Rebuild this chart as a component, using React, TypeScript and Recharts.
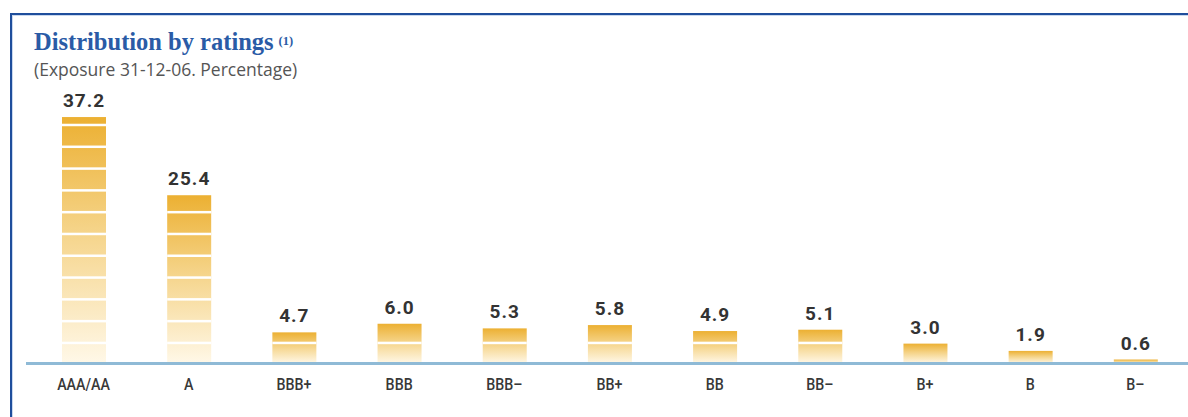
import React from "react";
import { BarChart, Bar, XAxis, YAxis, LabelList } from "recharts";

const categories = ["AAA/AA", "A", "BBB+", "BBB", "BBB–", "BB+", "BB", "BB–", "B+", "B", "B–"];
const values = [37.2, 25.4, 4.7, 6.0, 5.3, 5.8, 4.9, 5.1, 3.0, 1.9, 0.6];
const yDomain = [0, 40];
const STRIPE_UNITS = 3.29;

const data = categories.map((name, i) => ({ name, value: values[i] }));

const StripedBar = (props: any) => {
  const { x, y, width, height, payload } = props;
  if (!height || height <= 0) return null;
  const pxPerUnit = height / payload.value;
  const pitch = STRIPE_UNITS * pxPerUnit;
  const bottom = y + height;
  const gaps: React.ReactNode[] = [];
  for (let k = 1; k * pitch < height - 1.5; k++) {
    gaps.push(
      <rect key={k} x={x} y={bottom - k * pitch} width={width} height={2.5} fill="#ffffff" />
    );
  }
  return (
    <g>
      <rect x={x} y={y} width={width} height={height} fill="url(#barGrad)" />
      {gaps}
    </g>
  );
};

const Tick = (props: any) => {
  const { x, y, payload } = props;
  return (
    <text
      transform={`translate(${x}, ${y + 26}) scale(0.84, 1)`}
      x={0}
      y={0}
      textAnchor="middle"
      fill="#383838"
      fontSize={17}
      fontWeight={500}
      fontFamily="Roboto, sans-serif"
    >
      {payload.value}
    </text>
  );
};

export default function App() {
  return (
    <div
      style={{
        position: "absolute",
        left: 0,
        top: 0,
        width: 1188,
        height: 417,
        background: "#ffffff",
        overflow: "hidden",
      }}
    >
      <div
        style={{
          position: "absolute",
          left: 10,
          top: 13,
          width: 1200,
          height: 420,
          borderTop: "2.5px solid #1f4e9c",
          borderLeft: "2.5px solid #1f4e9c",
          boxShadow: "inset 1px 1px 0 #c9d8ee",
        }}
      />
      <div
        style={{
          position: "absolute",
          left: 34,
          top: 28,
          fontFamily: "'Liberation Serif', serif",
          fontWeight: 700,
          fontSize: 24.5,
          color: "#2a5ba6",
          whiteSpace: "nowrap",
          lineHeight: "27px",
        }}
      >
        Distribution by ratings
        <span style={{ fontSize: 12.5, verticalAlign: "top", position: "relative", top: 0, marginLeft: 5 }}>(1)</span>
      </div>
      <div
        style={{
          position: "absolute",
          left: 34,
          top: 58,
          fontFamily: "'Open Sans', sans-serif",
          fontSize: 17.5,
          color: "#555",
          whiteSpace: "nowrap",
          lineHeight: "22px",
        }}
      >
        (Exposure 31-12-06. Percentage)
      </div>
      <div style={{ position: "absolute", left: 0, top: 0 }}>
        <BarChart
          width={1188}
          height={417}
          data={data}
          margin={{ top: 98.5, right: 0, bottom: 23.5, left: 26 }}
          barCategoryGap={0}
        >
          <defs>
            <linearGradient id="barGrad" x1="0" y1="0" x2="0" y2="1">
              <stop offset="0%" stopColor="#ecb032" />
              <stop offset="45%" stopColor="#f5d387" />
              <stop offset="100%" stopColor="#fff8e8" />
            </linearGradient>
          </defs>
          <XAxis
            dataKey="name"
            height={30}
            axisLine={{ stroke: "#8fbad6", strokeWidth: 3 }}
            tickLine={false}
            tickSize={0}
            tickMargin={0}
            tick={<Tick />}
            interval={0}
            padding={{ left: 5, right: 0 }}
          />
          <YAxis hide domain={yDomain} />
          <Bar dataKey="value" barSize={44} shape={<StripedBar />} isAnimationActive={false}>
            <LabelList
              dataKey="value"
              position="top"
              offset={10}
              formatter={(v: any) => Number(v).toFixed(1)}
              fill="#333"
              fontSize={19}
              fontWeight={700}
              fontFamily="Roboto, sans-serif"
              letterSpacing={1}
            />
          </Bar>
        </BarChart>
      </div>
    </div>
  );
}
